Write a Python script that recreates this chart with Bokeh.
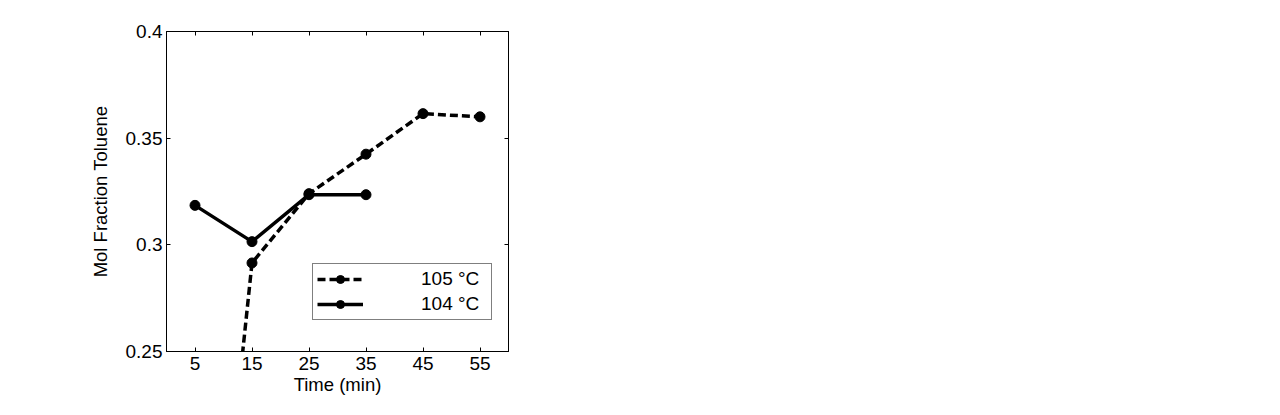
from bokeh.plotting import figure
from bokeh.models import Range1d, FixedTicker, LinearAxis, Legend, LegendItem
from bokeh.embed import file_html
from bokeh.resources import INLINE

# Data
time_105 = [5, 15, 25, 35, 45, 55]
frac_105 = [0.036, 0.2915, 0.324, 0.3425, 0.3615, 0.360]
time_104 = [5, 15, 25, 35]
frac_104 = [0.3185, 0.3015, 0.3235, 0.3235]
x_ticks = [5, 15, 25, 35, 45, 55]
y_ticks = [0.25, 0.3, 0.35, 0.4]
y_tick_labels = ["0.25", "0.3", "0.35", "0.4"]
labels = ["105 \u00b0C", "104 \u00b0C"]

FONT = "Liberation Sans"

p = figure(frame_width=342, frame_height=320,
           x_range=Range1d(0, 60), y_range=Range1d(0.25, 0.4),
           output_backend="svg", toolbar_location=None,
           min_border_left=166, min_border_top=31, min_border_right=10, min_border_bottom=50,
           background_fill_color="white", border_fill_color="white")
p.xgrid.visible = False
p.ygrid.visible = False
p.outline_line_color = "black"
p.outline_line_width = 1

def style_axis(ax, show_labels=True):
    ax.axis_line_color = "black"
    ax.major_tick_in = 4
    ax.major_tick_out = 0
    ax.minor_tick_in = 0
    ax.minor_tick_out = 0
    ax.major_tick_line_color = "black"
    ax.major_label_text_font = FONT
    ax.major_label_text_font_size = "19px"
    ax.major_label_text_color = "black"
    ax.axis_label_text_font = FONT
    ax.axis_label_text_font_size = "18.5px"
    ax.axis_label_text_font_style = "normal"
    ax.axis_label_text_color = "black"
    if not show_labels:
        ax.major_label_text_font_size = "0px"
        ax.major_label_text_color = None

p.xaxis.ticker = FixedTicker(ticks=x_ticks)
p.yaxis.ticker = FixedTicker(ticks=y_ticks)
p.yaxis.major_label_overrides = {t: l for t, l in zip(y_ticks, y_tick_labels)}
p.xaxis.axis_label = "Time (min)"
p.yaxis.axis_label = "Mol Fraction Toluene"
style_axis(p.xaxis[0])
style_axis(p.yaxis[0])
p.xaxis.major_label_standoff = 5
p.xaxis.axis_label_standoff = 1
p.yaxis.major_label_standoff = 4
p.yaxis.axis_label_standoff = 12

top = LinearAxis(ticker=FixedTicker(ticks=x_ticks))
right = LinearAxis(ticker=FixedTicker(ticks=y_ticks))
style_axis(top, False)
style_axis(right, False)
p.add_layout(top, "above")
p.add_layout(right, "right")

l105 = p.line(time_105, frac_105, line_color="black", line_width=3.5, line_dash="8 4")
s105 = p.scatter(time_105, frac_105, size=10, marker="circle", fill_color="black", line_color="black")
l104 = p.line(time_104, frac_104, line_color="black", line_width=3.5)
s104 = p.scatter(time_104, frac_104, size=10, marker="circle", fill_color="black", line_color="black")

legend = Legend(items=[LegendItem(label=labels[0], renderers=[l105, s105]),
                       LegendItem(label=labels[1], renderers=[l104, s104])],
                location=(146, 31), margin=0, padding=4, spacing=3,
                glyph_width=46, glyph_height=20, label_standoff=58, label_width=66,
                label_height=20,
                label_text_font=FONT, label_text_font_size="19px", label_text_color="black",
                border_line_color="black", border_line_width=1,
                background_fill_color="white", background_fill_alpha=1.0)
p.add_layout(legend, "center")

open("out.html", "w").write(file_html(p, INLINE))
